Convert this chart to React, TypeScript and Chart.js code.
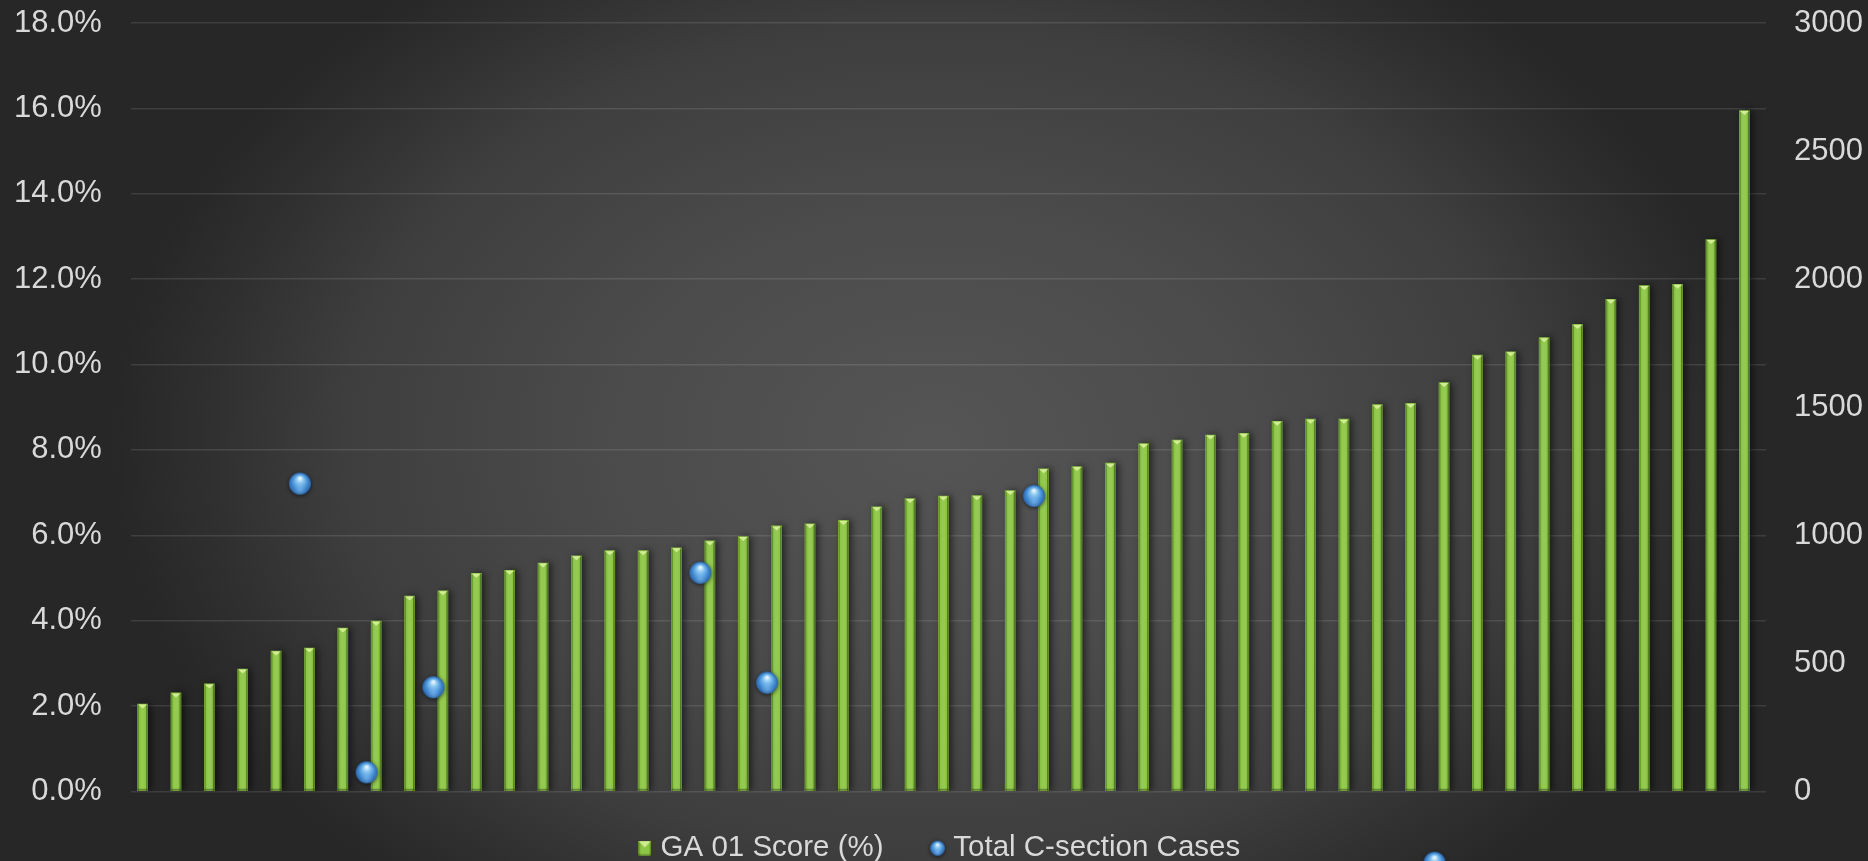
import { useEffect, useRef } from 'react';
import { Chart, registerables } from 'chart.js';

Chart.register(...registerables);

// Sites, sorted by GA 01 score
const sites = [
  'S01', 'S02', 'S03', 'S04', 'S05', 'S06', 'S07', 'S08', 'S09', 'S10',
  'S11', 'S12', 'S13', 'S14', 'S15', 'S16', 'S17', 'S18', 'S19', 'S20',
  'S21', 'S22', 'S23', 'S24', 'S25', 'S26', 'S27', 'S28', 'S29', 'S30',
  'S31', 'S32', 'S33', 'S34', 'S35', 'S36', 'S37', 'S38', 'S39', 'S40',
  'S41', 'S42', 'S43', 'S44', 'S45', 'S46', 'S47', 'S48', 'S49',
];

// GA 01 score, percent
const gaScore = [
  2.05, 2.31, 2.52, 2.87, 3.29, 3.36, 3.83, 3.99, 4.58, 4.7,
  5.11, 5.18, 5.35, 5.52, 5.64, 5.64, 5.71, 5.87, 5.97, 6.22,
  6.27, 6.35, 6.67, 6.86, 6.92, 6.93, 7.05, 7.56, 7.61, 7.69,
  8.15, 8.23, 8.35, 8.39, 8.67, 8.72, 8.72, 9.06, 9.09, 9.58,
  10.22, 10.3, 10.63, 10.94, 11.53, 11.85, 11.88, 12.93, 15.95,
];

// Total C-section cases, only reported for a few sites (site index -> cases)
const cSectionSiteIndex = [4, 6, 8, 16, 18, 26, 38];
const cSectionCases = [1202, 75, 407, 854, 425, 1154, -278];

const seriesNames = ['GA 01 Score (%)', 'Total C-section Cases'];

const TEXT = '#d9d9d9';
const FONT = "'Liberation Sans', Arial, sans-serif";
const BAR_GREEN = '#8dc645';
// case markers sit a little to the right of their site's bar
const DOT_SHIFT = 0.565;

function makeSphere(d: number) {
  const pad = 4;
  const c = document.createElement('canvas');
  c.width = c.height = Math.ceil(d + pad * 2);
  const g = c.getContext('2d')!;
  const r = d / 2;
  const cx = c.width / 2;
  const cy = c.height / 2;
  g.shadowColor = 'rgba(0,0,0,0.6)';
  g.shadowBlur = 4;
  g.shadowOffsetY = 1;
  const grad = g.createRadialGradient(cx, cy - r * 0.5, r * 0.08, cx, cy, r);
  grad.addColorStop(0, '#e6f5ff');
  grad.addColorStop(0.25, '#8cc8f2');
  grad.addColorStop(0.65, '#4690d6');
  grad.addColorStop(1, '#2b64a8');
  g.fillStyle = grad;
  g.beginPath();
  g.arc(cx, cy, r, 0, Math.PI * 2);
  g.fill();
  g.shadowColor = 'transparent';
  const rim = g.createRadialGradient(cx, cy + r * 0.55, 0, cx, cy + r * 0.55, r * 0.6);
  rim.addColorStop(0, 'rgba(150,205,250,0.45)');
  rim.addColorStop(1, 'rgba(150,205,250,0)');
  g.fillStyle = rim;
  g.beginPath();
  g.arc(cx, cy, r, 0, Math.PI * 2);
  g.fill();
  return c;
}

function makeBarSwatch(w: number, h: number) {
  const c = document.createElement('canvas');
  c.width = w;
  c.height = h;
  const g = c.getContext('2d')!;
  g.fillStyle = BAR_GREEN;
  g.fillRect(0, 0, w, h);
  g.fillStyle = 'rgba(40,70,10,0.45)';
  g.fillRect(0, 0, 1.5, h);
  g.fillRect(w - 1.5, 0, 1.5, h);
  g.fillStyle = '#d2ec93';
  g.beginPath();
  g.moveTo(0.5, 0.5);
  g.lineTo(w - 0.5, 0.5);
  g.lineTo(w / 2, h * 0.45);
  g.closePath();
  g.fill();
  g.fillStyle = 'rgba(0,0,0,0.3)';
  g.fillRect(0, h - 1.5, w, 1.5);
  return c;
}

const barStyling = {
  id: 'barStyling',
  beforeDatasetDraw(chart: any, args: any) {
    if (args.index !== 0) return;
    const c = chart.ctx;
    c.save();
    c.shadowColor = 'rgba(0,0,0,0.55)';
    c.shadowBlur = 7;
    c.shadowOffsetX = 3;
  },
  afterDatasetDraw(chart: any, args: any) {
    if (args.index !== 0) return;
    const c = chart.ctx;
    c.restore();
    c.save();
    args.meta.data.forEach((el: any) => {
      const { x, y, base, width } = el.getProps(['x', 'y', 'base', 'width'], true);
      const l = x - width / 2;
      const r = x + width / 2;
      const h = base - y;
      c.fillStyle = 'rgba(255,255,255,0.07)';
      c.fillRect(l + 3, y, width - 6, h);
      c.fillStyle = 'rgba(40,75,10,0.4)';
      c.fillRect(l, y, 1.5, h);
      c.fillStyle = 'rgba(30,55,5,0.5)';
      c.fillRect(r - 1.5, y, 1.5, h);
      c.fillStyle = '#d2ec93';
      c.beginPath();
      c.moveTo(l + 0.5, y + 0.5);
      c.lineTo(r - 0.5, y + 0.5);
      c.lineTo(x, y + 4.5);
      c.closePath();
      c.fill();
      c.fillStyle = 'rgba(0,0,0,0.3)';
      c.fillRect(l, base - 2, width, 2);
    });
    c.restore();
  },
};

// markers whose value falls outside the plot area are still drawn
const offAreaPoints = {
  id: 'offAreaPoints',
  afterDatasetsDraw(chart: any) {
    const meta = chart.getDatasetMeta(1);
    const a = chart.chartArea;
    const wide = { left: -50, top: -50, right: chart.width + 50, bottom: chart.height + 50 };
    meta.data.forEach((el: any) => {
      if (el.y > a.bottom || el.y < a.top) el.draw(chart.ctx, wide);
    });
  },
};

// legend sits left of centre, close under the plot
const legendShift = {
  id: 'legendShift',
  afterLayout(chart: any) {
    const lg = chart.legend;
    if (lg) {
      lg.left += 4;
      lg.right += 4;
      lg.top -= 11;
      lg.bottom -= 11;
    }
  },
};

// value axes: tick labels may overhang the plot edges
const noEdgePadding = (scale: any) => {
  scale.paddingTop = 0;
  scale.paddingBottom = 0;
};

export default function App() {
  const canvasRef = useRef<HTMLCanvasElement>(null);

  useEffect(() => {
    const sphere = makeSphere(22);
    const sphereSmall = makeSphere(15);
    const swatch = makeBarSwatch(13, 15);

    const chart = new Chart(canvasRef.current!, {
      type: 'bar',
      data: {
        labels: sites,
        datasets: [
          {
            type: 'bar',
            label: seriesNames[0],
            data: gaScore,
            backgroundColor: BAR_GREEN,
            borderWidth: 0,
            barThickness: 10,
            xAxisID: 'x',
            yAxisID: 'y',
            order: 1,
          },
          {
            type: 'scatter',
            label: seriesNames[1],
            data: cSectionSiteIndex.map((s, i) => ({ x: s, y: cSectionCases[i] })),
            pointStyle: sphere,
            pointRadius: 11,
            xAxisID: 'xDots',
            yAxisID: 'y1',
            clip: false,
            order: 0,
          } as any,
        ],
      },
      options: {
        responsive: false,
        animation: false,
        events: [],
        layout: { padding: { left: -15, right: -23, top: 23, bottom: -23 } },
        scales: {
          x: {
            type: 'category',
            display: false,
            offset: true,
            grid: { display: false },
          },
          xDots: {
            type: 'linear',
            display: false,
            offset: false,
            bounds: 'data',
            min: -0.5 - DOT_SHIFT,
            max: sites.length - 0.5 - DOT_SHIFT,
            grid: { display: false, offset: false },
          },
          y: {
            position: 'left',
            min: 0,
            max: 18,
            afterFit: noEdgePadding,
            ticks: {
              stepSize: 2,
              padding: 29,
              color: TEXT,
              font: { family: FONT, size: 31 },
              callback: (v: any) => `${Number(v).toFixed(1)}%`,
            },
            grid: { color: 'rgba(255,255,255,0.11)', lineWidth: 1.5, drawTicks: false },
            border: { display: false },
          },
          y1: {
            position: 'right',
            min: 0,
            max: 3000,
            afterFit: noEdgePadding,
            ticks: {
              stepSize: 500,
              padding: 28,
              color: TEXT,
              font: { family: FONT, size: 31 },
              callback: (v: any) => String(v),
            },
            grid: { display: false, drawTicks: false },
            border: { display: false },
          },
        },
        plugins: {
          tooltip: { enabled: false },
          legend: {
            position: 'bottom',
            labels: {
              usePointStyle: true,
              boxWidth: 2,
              boxHeight: 13,
              padding: 53,
              color: TEXT,
              font: { family: FONT, size: 29.5 },
              generateLabels: () => [
                {
                  text: seriesNames[0],
                  pointStyle: swatch,
                  fillStyle: BAR_GREEN,
                  strokeStyle: 'transparent',
                  lineWidth: 0,
                  hidden: false,
                  datasetIndex: 0,
                  fontColor: TEXT,
                },
                {
                  text: seriesNames[1],
                  pointStyle: sphereSmall,
                  fillStyle: '#4690d6',
                  strokeStyle: 'transparent',
                  lineWidth: 0,
                  hidden: false,
                  datasetIndex: 1,
                  fontColor: TEXT,
                },
              ],
            },
          },
        },
      },
      plugins: [barStyling, offAreaPoints, legendShift],
    } as any);

    return () => chart.destroy();
  }, []);

  return (
    <div
      style={{
        position: 'fixed',
        left: 0,
        top: 0,
        width: 1868,
        height: 861,
        overflow: 'hidden',
        background:
          'radial-gradient(ellipse 820px 580px at 934px 440px, #555555 0%, #4b4b4b 40%, #3e3e3e 72%, #303030 88%, #272727 100%)',
      }}
    >
      <canvas ref={canvasRef} width={1868} height={861} style={{ display: 'block' }} />
    </div>
  );
}
